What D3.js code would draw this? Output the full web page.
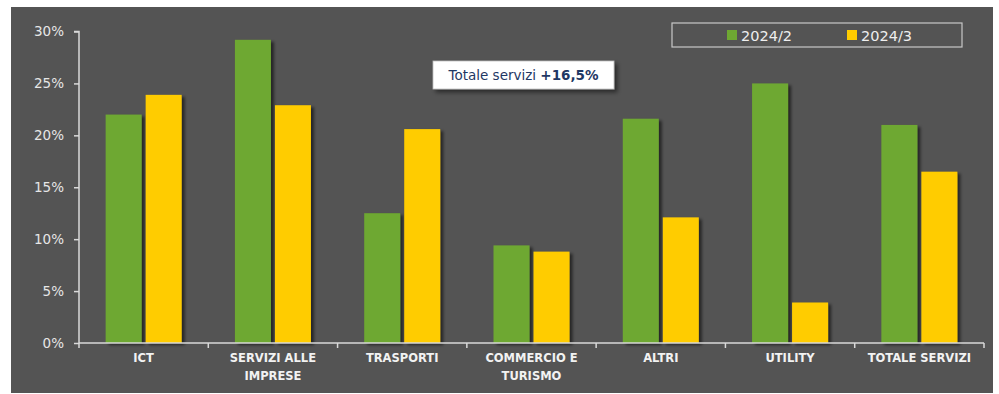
<!DOCTYPE html>
<html>
<head>
<meta charset="utf-8">
<script src="https://cdn.jsdelivr.net/npm/d3@7"></script>
<style>
  html, body { margin: 0; padding: 0; background: #ffffff; }
  svg { display: block; }
</style>
</head>
<body>
<svg id="chart" width="999" height="394"></svg>
<script>
// Categories (label lines) and the two quarterly series, in percent
const categories = [
  ["ICT"],
  ["SERVIZI ALLE", "IMPRESE"],
  ["TRASPORTI"],
  ["COMMERCIO E", "TURISMO"],
  ["ALTRI"],
  ["UTILITY"],
  ["TOTALE SERVIZI"]
];
const seriesNames = ["2024/2", "2024/3"];
const values2024q2 = [22.0, 29.2, 12.5, 9.4, 21.6, 25.0, 21.0];
const values2024q3 = [23.9, 22.9, 20.6, 8.8, 12.1, 3.9, 16.5];
const yTicks = [0, 5, 10, 15, 20, 25, 30];
const calloutLabel = "Totale servizi ";
const calloutValue = "+16,5%";

const colors = ["#6EA832", "#FFCC00"];
const font = "'DejaVu Sans', sans-serif";

const svg = d3.select("#chart");

// dark panel
svg.append("rect")
  .attr("x", 11).attr("y", 7).attr("width", 982).attr("height", 386)
  .attr("fill", "#545454");

const defs = svg.append("defs");
const shadow = defs.append("filter").attr("id", "barShadow")
  .attr("x", "-30%").attr("y", "-10%").attr("width", "170%").attr("height", "130%");
shadow.append("feDropShadow")
  .attr("dx", 3).attr("dy", 2).attr("stdDeviation", 1.6)
  .attr("flood-color", "#000").attr("flood-opacity", 0.55);

const boxShadow = defs.append("filter").attr("id", "boxShadow")
  .attr("x", "-10%").attr("y", "-30%").attr("width", "125%").attr("height", "170%");
boxShadow.append("feDropShadow")
  .attr("dx", 3).attr("dy", 3).attr("stdDeviation", 2)
  .attr("flood-color", "#000").attr("flood-opacity", 0.5);

const x0 = 79, x1 = 984, yBottom = 343, yTop = 31.5;

const x = d3.scaleBand()
  .domain(d3.range(categories.length))
  .range([x0, x1])
  .paddingInner(0).paddingOuter(0);

const y = d3.scaleLinear().domain([0, 30]).range([yBottom, yTop]);

const barW = 36, gap = 4;

// bars
const data = categories.map((c, i) => ({ i, vals: [values2024q2[i], values2024q3[i]] }));
const groups = svg.append("g").selectAll("g").data(data).join("g");
groups.each(function(d) {
  const cx = x(d.i) + x.bandwidth() / 2;
  d3.select(this).selectAll("rect").data(d.vals).join("rect")
    .attr("x", (v, k) => k === 0 ? cx - gap / 2 - barW : cx + gap / 2)
    .attr("y", v => y(v))
    .attr("width", barW)
    .attr("height", v => yBottom - y(v))
    .attr("fill", (v, k) => colors[k])
    .attr("filter", "url(#barShadow)");
});

// y axis
const yAxis = d3.axisLeft(y)
  .tickValues(yTicks)
  .tickFormat(d => d + "%")
  .tickSize(5)
  .tickPadding(10);
const gy = svg.append("g").attr("transform", `translate(${x0},0)`).call(yAxis);
gy.select(".domain").attr("stroke", "#d9d9d9").attr("stroke-width", 1.5)
  .attr("d", `M-5,${yTop}H0V${yBottom}`);
gy.selectAll(".tick line").attr("stroke", "#d9d9d9").attr("stroke-width", 1.5);
gy.selectAll(".tick text")
  .attr("fill", "#e6e6e6")
  .style("font-family", font)
  .style("font-size", "13.5px");

// x axis baseline with category boundary ticks
const gx = svg.append("g");
gx.append("line")
  .attr("x1", x0).attr("x2", x1).attr("y1", yBottom).attr("y2", yBottom)
  .attr("stroke", "#d9d9d9").attr("stroke-width", 1.5);
const bounds = d3.range(categories.length + 1).map(i => i < categories.length ? x(i) : x1);
gx.selectAll("line.b").data(bounds).join("line")
  .attr("class", "b")
  .attr("x1", d => d).attr("x2", d => d)
  .attr("y1", yBottom).attr("y2", yBottom + 5)
  .attr("stroke", "#d9d9d9").attr("stroke-width", 1.5);

// category labels
const labels = svg.append("g").selectAll("text").data(categories).join("text")
  .attr("x", (d, i) => x(i) + x.bandwidth() / 2)
  .attr("y", 362)
  .attr("text-anchor", "middle")
  .attr("fill", "#f2f2f2")
  .style("font-family", font)
  .style("font-weight", "bold")
  .style("font-size", "11.5px");
labels.each(function(lines) {
  const t = d3.select(this);
  lines.forEach((ln, k) => {
    t.append("tspan")
      .attr("x", t.attr("x"))
      .attr("dy", k === 0 ? 0 : 18)
      .text(ln);
  });
});

// legend
const lg = svg.append("g");
lg.append("rect")
  .attr("x", 672).attr("y", 23).attr("width", 290).attr("height", 24)
  .attr("fill", "none").attr("stroke", "#c8c8c8").attr("stroke-width", 1.2);
const legendX = [727, 847];
seriesNames.forEach((name, k) => {
  lg.append("rect")
    .attr("x", legendX[k]).attr("y", 30).attr("width", 10).attr("height", 10)
    .attr("fill", colors[k]);
  lg.append("text")
    .attr("x", legendX[k] + 14).attr("y", 41)
    .attr("fill", "#eeeeee")
    .style("font-family", font)
    .style("font-size", "14.5px")
    .text(name);
});

// callout box
const cb = svg.append("g");
cb.append("rect")
  .attr("x", 433).attr("y", 61).attr("width", 181).attr("height", 28)
  .attr("fill", "#ffffff").attr("stroke", "#bfbfbf").attr("stroke-width", 0.8)
  .attr("filter", "url(#boxShadow)");
const ct = cb.append("text")
  .attr("x", 523.5).attr("y", 80)
  .attr("text-anchor", "middle")
  .attr("fill", "#1F3864")
  .style("font-family", font)
  .style("font-size", "13.5px");
ct.append("tspan").text(calloutLabel);
ct.append("tspan").style("font-weight", "bold").text(calloutValue);
</script>
</body>
</html>
